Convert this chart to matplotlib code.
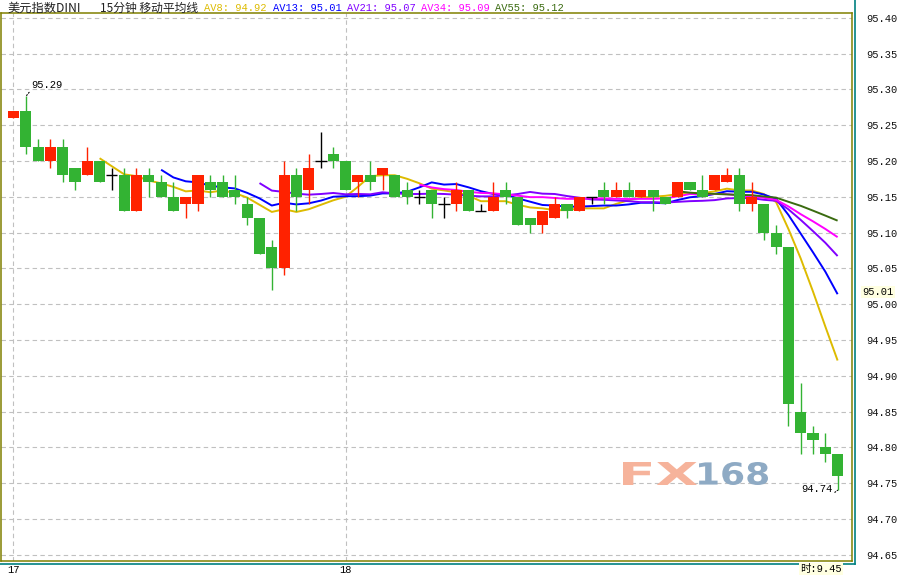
import numpy as np
import pandas as pd
import matplotlib
matplotlib.use('Agg')
import matplotlib.pyplot as plt
from matplotlib.lines import Line2D
from matplotlib.patches import PathPatch
from matplotlib.textpath import TextPath
from matplotlib.font_manager import FontProperties
from matplotlib.transforms import Affine2D, blended_transform_factory

# 15-minute candles of the US dollar index
opens = [95.26, 95.27, 95.22, 95.20, 95.22, 95.19, 95.18, 95.20, 95.18, 95.18,
         95.13, 95.18, 95.17, 95.15, 95.14, 95.14, 95.17, 95.17, 95.16, 95.14,
         95.12, 95.08, 95.05, 95.18, 95.16, 95.20, 95.21, 95.20, 95.17, 95.18,
         95.18, 95.18, 95.16, 95.15, 95.16, 95.14, 95.14, 95.16, 95.13, 95.13,
         95.16, 95.15, 95.12, 95.11, 95.12, 95.14, 95.13, 95.15, 95.16, 95.15,
         95.16, 95.15, 95.16, 95.15, 95.15, 95.17, 95.16, 95.16, 95.17, 95.18,
         95.14, 95.14, 95.10, 95.08, 94.85, 94.82, 94.80, 94.79]
highs = [95.27, 95.29, 95.23, 95.23, 95.23, 95.19, 95.22, 95.20, 95.19, 95.19,
         95.19, 95.19, 95.18, 95.17, 95.15, 95.18, 95.18, 95.18, 95.18, 95.15,
         95.12, 95.09, 95.20, 95.19, 95.21, 95.24, 95.22, 95.20, 95.18, 95.20,
         95.19, 95.18, 95.17, 95.16, 95.16, 95.15, 95.17, 95.16, 95.14, 95.17,
         95.17, 95.15, 95.12, 95.13, 95.15, 95.14, 95.15, 95.15, 95.17, 95.17,
         95.17, 95.16, 95.16, 95.15, 95.17, 95.17, 95.18, 95.18, 95.19, 95.19,
         95.17, 95.14, 95.11, 95.08, 94.89, 94.83, 94.82, 94.79]
lows = [95.26, 95.21, 95.20, 95.19, 95.17, 95.16, 95.18, 95.17, 95.16, 95.13,
        95.13, 95.15, 95.15, 95.13, 95.12, 95.13, 95.15, 95.15, 95.14, 95.11,
        95.07, 95.02, 95.04, 95.13, 95.14, 95.19, 95.19, 95.16, 95.15, 95.16,
        95.16, 95.15, 95.14, 95.14, 95.12, 95.12, 95.13, 95.13, 95.13, 95.13,
        95.14, 95.11, 95.10, 95.10, 95.12, 95.12, 95.13, 95.14, 95.14, 95.15,
        95.15, 95.15, 95.13, 95.14, 95.15, 95.16, 95.15, 95.16, 95.17, 95.13,
        95.13, 95.09, 95.07, 94.83, 94.79, 94.79, 94.78, 94.74]
closes = [95.27, 95.22, 95.20, 95.22, 95.18, 95.17, 95.20, 95.17, 95.18, 95.13,
          95.18, 95.17, 95.15, 95.13, 95.15, 95.18, 95.16, 95.15, 95.15, 95.12,
          95.07, 95.05, 95.18, 95.15, 95.19, 95.20, 95.20, 95.16, 95.18, 95.17,
          95.19, 95.15, 95.15, 95.15, 95.14, 95.14, 95.16, 95.13, 95.13, 95.15,
          95.15, 95.11, 95.11, 95.13, 95.14, 95.13, 95.15, 95.15, 95.15, 95.16,
          95.15, 95.16, 95.15, 95.14, 95.17, 95.16, 95.15, 95.18, 95.18, 95.14,
          95.15, 95.10, 95.08, 94.86, 94.82, 94.81, 94.79, 94.76]

ma_periods = [8, 13, 21, 34, 55]
ma_colors = ['#DDBB00', '#0000FF', '#8000FF', '#FF00FF', '#3A6B10']
day_ticks = [0, 27]
day_labels = ['17', '18']
yticks = np.round(np.arange(94.65, 95.401, 0.05), 2)

plt.rcParams['font.family'] = ['Noto Sans CJK SC', 'DejaVu Sans']
mono = ['Liberation Mono', 'DejaVu Sans Mono']

W, H = 908, 575
fig = plt.figure(figsize=(W / 100, H / 100), dpi=100)
ax = fig.add_axes([1 / W, 1 - 561 / H, 851 / W, 548 / H])

x = np.arange(len(closes))
o = np.array(opens)
c = np.array(closes)
hi = np.array(highs)
lo = np.array(lows)

# moving averages
df = pd.DataFrame({'close': c})
for p, col in zip(ma_periods, ma_colors):
    ma = df['close'].rolling(p).mean()
    ax.plot(x, ma, color=col, lw=1.4, zorder=2, solid_capstyle='butt')

# candles: red up, green down, black doji
colors = np.where(c > o, '#FF2200', np.where(c < o, '#33B333', '#000000'))
ax.vlines(x, lo, hi, colors=colors, lw=1.0, zorder=3)
body = c != o
ax.bar(x[body], np.abs(c - o)[body], bottom=np.minimum(o, c)[body], width=0.9,
       color=colors[body], lw=0, zorder=4)
ax.hlines(c[~body], x[~body] - 0.45, x[~body] + 0.45, colors='black', lw=1.0, zorder=4)

ax.set_xlim(-1.016, 68.17)
ax.set_ylim(94.6412, 95.4066)

ax.set_yticks(yticks)
ax.set_yticklabels([f'{v:.2f}' for v in yticks], family=mono, fontsize=7.5, color='#111111')
ax.yaxis.tick_right()
ax.tick_params(axis='y', length=0, pad=10)
ax.set_xticks(day_ticks)
ax.set_xticklabels(day_labels, family=mono, fontsize=7.5)
ax.tick_params(axis='x', length=0, pad=3)
ax.grid(True, color='#C0C0C0', ls=(0, (4, 3)), lw=0.8)
ax.set_axisbelow(True)
for s in ax.spines.values():
    s.set_color('#808000')
    s.set_linewidth(1.1)

# high / low labels
ax.annotate(f'{max(highs):.2f}', xy=(int(np.argmax(hi)), max(highs)), xytext=(4, 5),
            textcoords='offset points', ha='left', va='bottom', family=mono, fontsize=7.5,
            arrowprops=dict(arrowstyle='-', lw=0.8, ls=':', color='black',
                            shrinkA=0, shrinkB=0, relpos=(0, 0)))
ax.annotate(f'{min(lows):.2f}', xy=(int(np.argmin(lo)), min(lows)), xytext=(-4, -3),
            textcoords='offset points', ha='right', va='bottom', family=mono, fontsize=7.5,
            arrowprops=dict(arrowstyle='-', lw=0.8, ls=':', color='black',
                            shrinkA=0, shrinkB=0, relpos=(1, 0)))

# current AV13 value on the price axis
tr = blended_transform_factory(ax.transAxes, ax.transData)
ax.text(1.012, 95.01, '95.01', transform=tr, ha='left', va='bottom', family=mono,
        fontsize=7.5, bbox=dict(boxstyle='square,pad=0.1', fc='#FFFFE1', ec='none'),
        clip_on=False, zorder=6)

# FX168 watermark
fp = FontProperties(family='DejaVu Sans', weight='bold')
for txt, x0, x1, col in [('FX', 623, 697, '#F6B39B'), ('168', 699, 768, '#8EAAC4')]:
    tp = TextPath((0, 0), txt, size=1, prop=fp)
    ext = tp.get_extents()
    sx = (x1 - x0) / ext.width
    sy = 23 / ext.height
    t = Affine2D().translate(-ext.x0, -ext.y0).scale(sx, sy).translate(x0, H - 485)
    ax.add_patch(PathPatch(tp, transform=t, fc=col, ec='none', zorder=1))

# header
fig.text(7 / W, 1 - 8 / H, '美元指数DINI', fontsize=8.8, va='center', ha='left', color='#222222')
fig.text(100 / W, 1 - 8 / H, '15分钟 移动平均线', fontsize=8.5, va='center', ha='left', color='#222222')
av_x = [204, 273, 347, 421, 495]
for p, col, xx in zip(ma_periods, ma_colors, av_x):
    val = df['close'].rolling(p).mean().iloc[-1]
    fig.text(xx / W, 1 - 8 / H, f'AV{p}: {val:.2f}', family=mono, fontsize=7.5,
             va='center', ha='left', color=col)

fig.text(800 / W, 1 - 569 / H, '时:9.45', fontsize=7.5, va='center', ha='left',
         family=['Liberation Mono', 'Noto Sans CJK SC'],
         bbox=dict(boxstyle='square,pad=0.1', fc='#FFFFE1', ec='none'))

# teal frame lines
fig.add_artist(Line2D([855 / W, 855 / W], [1, 1 - 564 / H], transform=fig.transFigure,
                      color='#008080', lw=1.2))
fig.add_artist(Line2D([0, 855 / W], [1 - 564 / H, 1 - 564 / H], transform=fig.transFigure,
                      color='#008080', lw=1.2))

fig.savefig('out.png', dpi=100)
